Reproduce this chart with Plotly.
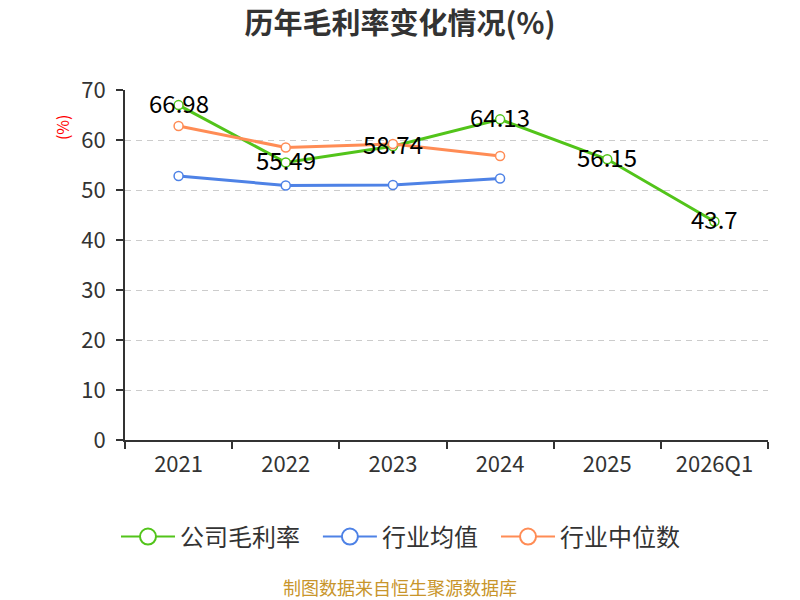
import plotly.graph_objects as go

categories = ["2021", "2022", "2023", "2024", "2025", "2026Q1"]
company = [66.98, 55.49, 58.74, 64.13, 56.15, 43.7]
industry_avg = [52.8, 50.9, 51.0, 52.3]
industry_median = [62.8, 58.5, 59.2, 56.8]
label_texts = ["66.98", "55.49", "58.74", "64.13", "56.15", "43.7"]

FONT = "Noto Sans CJK SC, Noto Sans, sans-serif"
SERIES = ["公司毛利率", "行业均值", "行业中位数"]
COLORS = ["#52c41a", "#4e82e6", "#ff8c55"]
LEGEND_X = [-0.014, 0.300, 0.577]

fig = go.Figure()

def add_series(name, y, cats, color):
    fig.add_trace(go.Scatter(
        x=cats, y=y, name=name, mode="lines+markers", showlegend=False,
        line=dict(color=color, width=3),
        marker=dict(symbol="circle", size=9, color="white",
                    line=dict(color=color, width=1.5)),
    ))

add_series(SERIES[0], company, categories, COLORS[0])
add_series(SERIES[1], industry_avg, categories[:len(industry_avg)], COLORS[1])
add_series(SERIES[2], industry_median, categories[:len(industry_median)], COLORS[2])

# legend-only entries with larger symbols, each in its own legend box
legend_ids = ["legend", "legend2", "legend3"]
for name, color, lid in zip(SERIES, COLORS, legend_ids):
    fig.add_trace(go.Scatter(
        x=[None], y=[None], name=name, mode="lines+markers", legend=lid,
        line=dict(color=color, width=2),
        marker=dict(symbol="circle", size=16, color="white",
                    line=dict(color=color, width=2)),
    ))

for i, (v, t) in enumerate(zip(company, label_texts)):
    fig.add_annotation(x=i, y=v, text=t, showarrow=False, yshift=3,
                       font=dict(size=24, color="#000", family=FONT))

legend_common = dict(orientation="h", xanchor="left", y=-0.277, yanchor="middle",
                     font=dict(size=24, color="#333", family=FONT), itemwidth=54,
                     bgcolor="rgba(0,0,0,0)")

fig.update_layout(
    width=800, height=600,
    margin=dict(l=125, r=32, t=90, b=160),
    paper_bgcolor="white", plot_bgcolor="white",
    font=dict(family=FONT, color="#333"),
    title=dict(text="<b>历年毛利率变化情况(%)</b>", x=0.5, xanchor="center",
               y=0.96, yanchor="middle", font=dict(size=29, color="#333", family=FONT)),
    showlegend=True,
    legend=dict(x=LEGEND_X[0], **legend_common),
    legend2=dict(x=LEGEND_X[1], **legend_common),
    legend3=dict(x=LEGEND_X[2], **legend_common),
)

fig.update_xaxes(
    type="category", categoryorder="array", categoryarray=categories,
    range=[-0.5, 5.5], tickson="boundaries",
    showline=True, linecolor="#333", linewidth=2,
    ticks="outside", ticklen=7, tickcolor="#333", tickwidth=1.5,
    tickfont=dict(size=22, color="#333", family=FONT), ticklabelstandoff=4,
    showgrid=False, zeroline=False,
)
fig.update_yaxes(
    range=[0, 70], dtick=10,
    showline=True, linecolor="#333", linewidth=2,
    ticks="outside", ticklen=7, tickcolor="#333", tickwidth=1.5,
    tickfont=dict(size=22, color="#333", family=FONT), ticklabelstandoff=6,
    showgrid=True, gridcolor="#cccccc", griddash="6px,5px", gridwidth=1.2,
    zeroline=False,
)

fig.add_annotation(xref="paper", yref="paper", x=-0.098, y=0.894, text="(%)",
                   textangle=-90, showarrow=False, xanchor="center", yanchor="middle",
                   font=dict(size=16, color="#ff0000", family=FONT))
fig.add_annotation(xref="paper", yref="paper", x=0.428, y=-0.42, text="制图数据来自恒生聚源数据库",
                   showarrow=False, xanchor="center", yanchor="middle",
                   font=dict(size=18, color="#c8952b", family=FONT))

fig.write_html("out.html")
